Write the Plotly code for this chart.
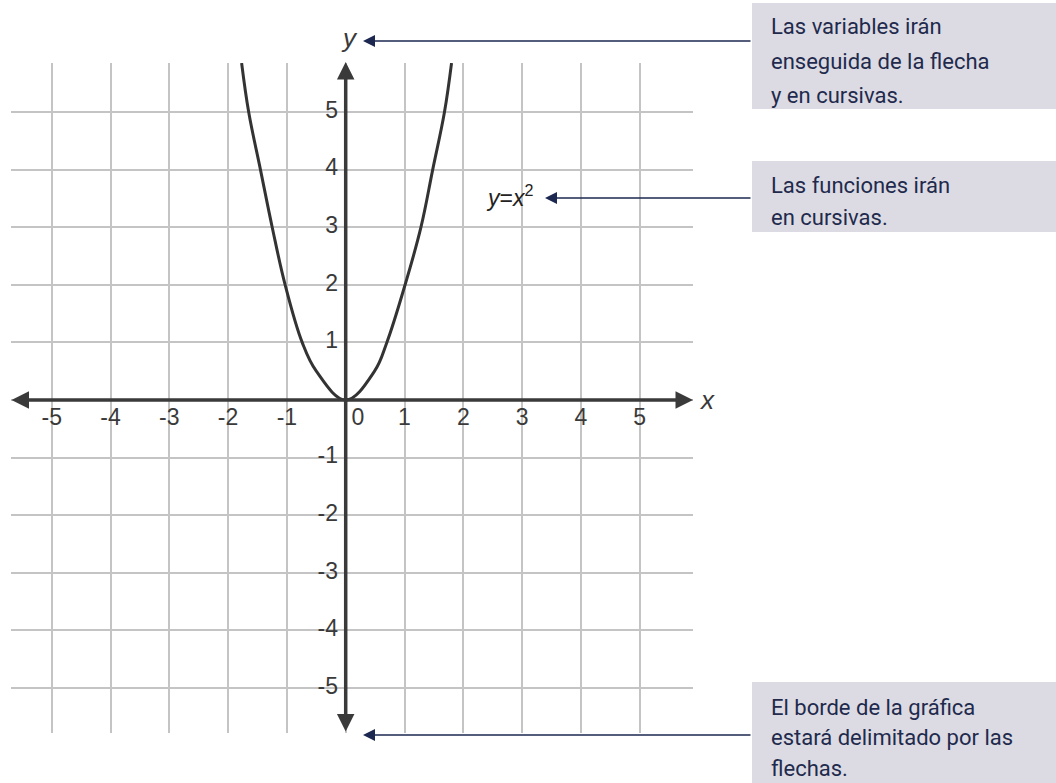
import plotly.graph_objects as go

# ---------------- data ----------------
x_ticks = [-5, -4, -3, -2, -1, 1, 2, 3, 4, 5]
x_tick_labels = ["-5", "-4", "-3", "-2", "-1", "1", "2", "3", "4", "5"]
y_ticks = [5, 4, 3, 2, 1, -1, -2, -3, -4, -5]
y_tick_labels = ["5", "4", "3", "2", "1", "-1", "-2", "-3", "-4", "-5"]
origin_label = "0"

# curve
curve_x = [-1.77, -1.65, -1.45, -1.25, -1.03, -0.74, -0.50, 0.0,
           0.49, 0.70, 1.01, 1.28, 1.48, 1.68, 1.80]
curve_y = [5.85, 5.0, 4.0, 3.0, 2.0, 1.0, 0.5, 0.0,
           0.5, 1.0, 2.0, 3.0, 4.0, 5.0, 5.85]

box1_lines = ["Las variables irán", "enseguida de la flecha", "y en cursivas."]
box2_lines = ["Las funciones irán", "en cursivas."]
box3_lines = ["El borde de la gráfica", "estará delimitado por las", "flechas."]

# ---------------- geometry ----------------
W, H = 1056, 783
L, R, T, B = 11, 693, 63, 733          # grid region in pixels
OX, OY = 345.7, 400.0                   # origin pixel
SX, SY = 58.8, 57.6                     # px per unit


def dx(px):
    return (px - OX) / SX


def dy(py):
    return (OY - py) / SY


def px_paper(px):
    return (px - L) / (R - L)


def py_paper(py):
    return (B - py) / (B - T)


AXIS_COL = "#3a3a3a"
GRID_COL = "#c4c4c4"
NAVY = "#1c2850"
BOX_FILL = "#dcdbe3"
TXT_NAVY = "#1f2a4d"
NUM_FONT = dict(family="Liberation Sans, Arial, sans-serif", size=23, color=AXIS_COL)

fig = go.Figure()

# parabola
fig.add_trace(go.Scatter(
    x=curve_x, y=curve_y, mode="lines",
    line=dict(color="#333333", width=3, shape="spline", smoothing=1.1),
    hoverinfo="skip", showlegend=False, cliponaxis=False))

# x tick labels
fig.add_trace(go.Scatter(
    x=x_ticks, y=[dy(419)] * len(x_ticks), mode="text", text=x_tick_labels,
    textposition="middle center", textfont=NUM_FONT,
    hoverinfo="skip", showlegend=False, cliponaxis=False))
# origin label
fig.add_trace(go.Scatter(
    x=[dx(358)], y=[dy(419)], mode="text", text=[origin_label],
    textposition="middle center", textfont=NUM_FONT,
    hoverinfo="skip", showlegend=False, cliponaxis=False))
# y tick labels
fig.add_trace(go.Scatter(
    x=[dx(338)] * len(y_ticks), y=y_ticks, mode="text", text=y_tick_labels,
    textposition="middle left", textfont=NUM_FONT,
    hoverinfo="skip", showlegend=False, cliponaxis=False))

annotations = []
# axes with arrowheads at both ends
annotations.append(dict(
    x=dx(R), y=0, ax=dx(10), ay=0, xref="x", yref="y", axref="x", ayref="y",
    text="", showarrow=True, arrowside="end+start", arrowhead=2, startarrowhead=2,
    arrowsize=1.0, startarrowsize=1.0, arrowwidth=3.5, arrowcolor=AXIS_COL))
annotations.append(dict(
    x=0, y=dy(T - 1), ax=0, ay=dy(B), xref="x", yref="y", axref="x", ayref="y",
    text="", showarrow=True, arrowside="end+start", arrowhead=2, startarrowhead=2,
    arrowsize=1.0, startarrowsize=1.0, arrowwidth=3.5, arrowcolor=AXIS_COL))

# axis names (paper coords so they are not hidden outside the axis ranges)
annotations.append(dict(x=px_paper(707), y=py_paper(400), xref="paper", yref="paper",
                        xanchor="center", yanchor="middle",
                        text="<i>x</i>", showarrow=False,
                        font=dict(family="Liberation Sans, Arial", size=26, color=AXIS_COL)))
annotations.append(dict(x=px_paper(349), y=py_paper(38), xref="paper", yref="paper",
                        xanchor="center", yanchor="middle",
                        text="<i>y</i>", showarrow=False,
                        font=dict(family="Liberation Sans, Arial", size=26, color=AXIS_COL)))

# function label
annotations.append(dict(x=dx(509), y=dy(196), xref="x", yref="y",
                        xanchor="center", yanchor="middle",
                        text="<i>y</i>=<i>x</i><sup>2</sup>", showarrow=False,
                        font=dict(family="Liberation Sans, Arial", size=23, color="#222222")))

# leader arrows (navy)
for tip_px, tip_py in [(363, 41), (545, 198), (363, 735)]:
    annotations.append(dict(
        x=px_paper(tip_px), y=py_paper(tip_py), xref="paper", yref="paper",
        ax=752 - tip_px, ay=0, axref="pixel", ayref="pixel", text="", showarrow=True,
        arrowhead=2, arrowsize=1.6, arrowwidth=1.5, arrowcolor=NAVY))

# text boxes
shapes = []
for y0, y1 in [(3, 109), (161, 232), (682, 790)]:
    shapes.append(dict(type="rect", xref="paper", yref="paper",
                       x0=px_paper(752), x1=px_paper(1060),
                       y0=py_paper(y1), y1=py_paper(y0),
                       fillcolor=BOX_FILL, line=dict(width=0), layer="below"))

BOX_FONT = dict(family="Roboto, sans-serif", size=22, color=TXT_NAVY)
for lines, ys in [(box1_lines, [27, 61, 95]), (box2_lines, [186, 217]),
                  (box3_lines, [707, 738, 768])]:
    for txt, yy in zip(lines, ys):
        annotations.append(dict(x=px_paper(769), y=py_paper(yy), xref="paper", yref="paper",
                                xanchor="left", yanchor="middle", text=txt,
                                showarrow=False, font=BOX_FONT))

fig.update_layout(
    width=W, height=H,
    margin=dict(l=L, r=W - R, t=T, b=H - B, pad=0),
    paper_bgcolor="white", plot_bgcolor="white",
    showlegend=False,
    xaxis=dict(range=[dx(L), dx(R)], tick0=0, dtick=1, showgrid=True,
               gridcolor=GRID_COL, gridwidth=1.5, zeroline=False,
               showticklabels=False, ticks="", showline=False, fixedrange=True),
    yaxis=dict(range=[dy(B), dy(T)], tick0=0, dtick=1, showgrid=True,
               gridcolor=GRID_COL, gridwidth=1.5, zeroline=False,
               showticklabels=False, ticks="", showline=False, fixedrange=True),
    annotations=annotations, shapes=shapes,
)

fig.write_html("out.html", config={"displayModeBar": False},
               post_script="document.body.style.margin='0';")
